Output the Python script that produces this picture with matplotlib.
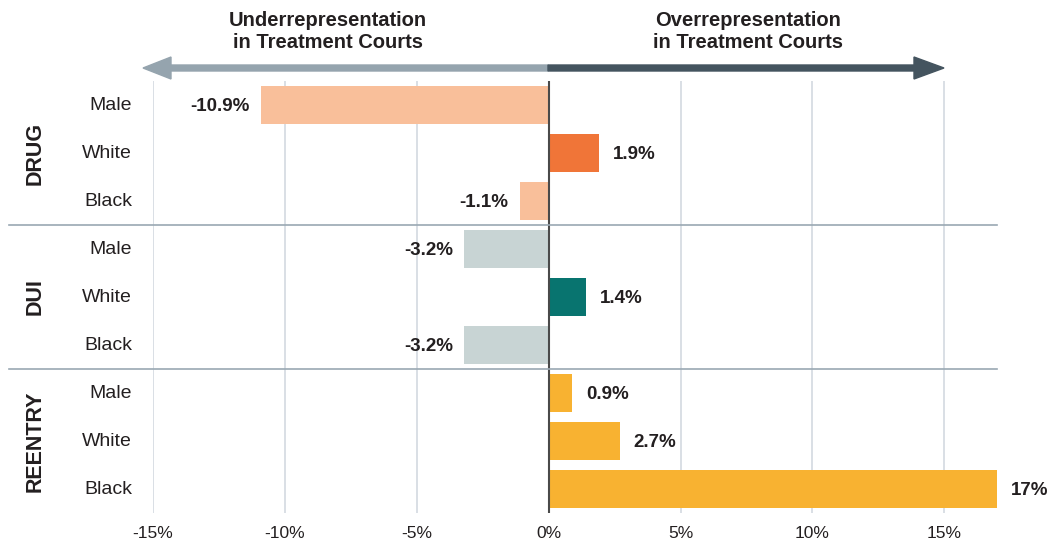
import matplotlib.pyplot as plt
from matplotlib.patches import FancyArrow

plt.rcParams['font.family'] = ['Liberation Sans', 'DejaVu Sans']

# data
groups = ['DRUG', 'DUI', 'REENTRY']
categories = ['Male', 'White', 'Black']
values = [-10.9, 1.9, -1.1,
          -3.2, 1.4, -3.2,
          0.9, 2.7, 17.0]
value_labels = ['-10.9%', '1.9%', '-1.1%',
                '-3.2%', '1.4%', '-3.2%',
                '0.9%', '2.7%', '17%']
colors = ['#f9bf9a', '#f07538', '#f9bf9a',
          '#c8d4d4', '#08746f', '#c8d4d4',
          '#f8b231', '#f8b231', '#f8b231']
xticks = [-15, -10, -5, 0, 5, 10, 15]
xtick_labels = ['-15%', '-10%', '-5%', '0%', '5%', '10%', '15%']

fig = plt.figure(figsize=(10.56, 5.44), dpi=100)
ax = fig.add_axes([153 / 1056, 1 - 513 / 544, 844 / 1056, 432 / 544])

ypos = list(range(len(values)))
ax.barh(ypos, values, height=0.8, color=colors, zorder=2)
ax.set_xlim(-15, 17)
ax.set_ylim(8.5, -0.5)

for x in xticks:
    ax.axvline(x, color='#d3d9e0', lw=1.2, zorder=1)
ax.axvline(0, color='#4a4a4a', lw=1.5, zorder=3)

for y, v, lab in zip(ypos, values, value_labels):
    if v >= 0:
        ax.annotate(lab, (v, y), xytext=(10, -1), textcoords='offset points',
                    ha='left', va='center', fontsize=13.5, fontweight='bold', color='#231f20')
    else:
        ax.annotate(lab, (v, y), xytext=(-8, -1), textcoords='offset points',
                    ha='right', va='center', fontsize=13.5, fontweight='bold', color='#231f20')

ax.set_xticks(xticks)
ax.set_xticklabels(xtick_labels, fontsize=12.5, color='#231f20')
ax.set_yticks([])
ax.tick_params(axis='x', length=0, pad=9)
for s in ax.spines.values():
    s.set_visible(False)

# category labels and group labels
for i, y in enumerate(ypos):
    fig.text(132 / 1056, 1 - (106 + 48 * y) / 544, categories[i % 3],
             ha='right', va='center', fontsize=14, color='#231f20')
for g, name in enumerate(groups):
    fig.text(35 / 1056, 1 - (153 + 144 * g) / 544, name, rotation=90,
             ha='center', va='center', fontsize=15.5, fontweight='bold', color='#231f20')

# separators
for ysep in [2.5, 5.5]:
    ax.plot([-15 - 144 / 26.375, 17], [ysep, ysep], color='#9aa8b3', lw=1.2,
            clip_on=False, zorder=4)

# direction arrows
ay = 68
fig.patches.append(FancyArrow(548 / 1056, 1 - ay / 544, -405 / 1056, 0, width=6 / 544,
                              head_width=22 / 544, head_length=28 / 1056,
                              length_includes_head=True, color='#95a4ae',
                              transform=fig.transFigure, figure=fig))
fig.patches.append(FancyArrow(548 / 1056, 1 - ay / 544, 396 / 1056, 0, width=6 / 544,
                              head_width=22 / 544, head_length=30 / 1056,
                              length_includes_head=True, color='#44545f',
                              transform=fig.transFigure, figure=fig))
fig.text(328 / 1056, 1 - 32 / 544, 'Underrepresentation\nin Treatment Courts',
         ha='center', va='center', fontsize=14.5, fontweight='bold', color='#231f20',
         linespacing=1.2)
fig.text(748 / 1056, 1 - 32 / 544, 'Overrepresentation\nin Treatment Courts',
         ha='center', va='center', fontsize=14.5, fontweight='bold', color='#231f20',
         linespacing=1.2)

fig.savefig('out.png', dpi=100)
